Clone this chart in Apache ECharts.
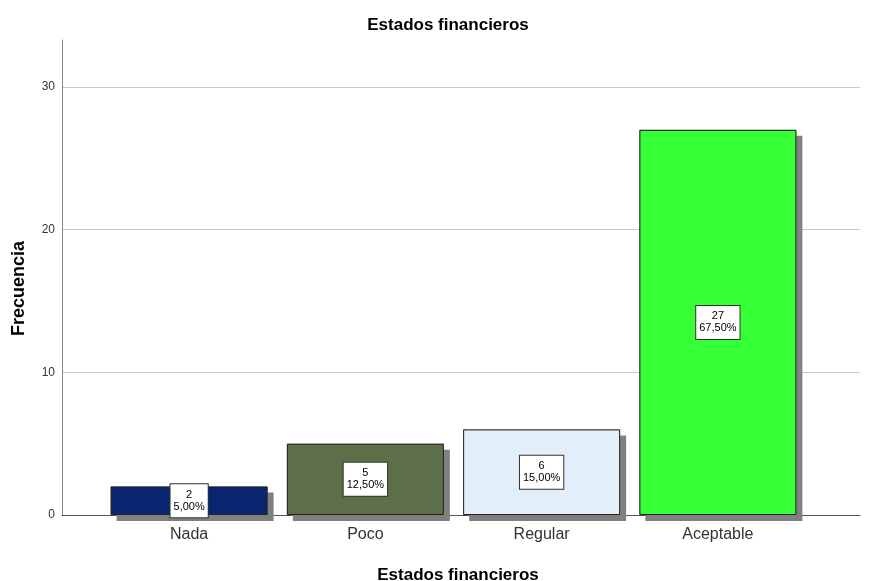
<!DOCTYPE html>
<html>
<head>
<meta charset="utf-8">
<script src="https://cdn.jsdelivr.net/npm/echarts@6/dist/echarts.min.js"></script>
<style>
html,body{margin:0;padding:0;background:#fff;}
#chart{width:875px;height:581px;}
</style>
</head>
<body>
<div id="chart"></div>
<script>
var categories = ['Nada', 'Poco', 'Regular', 'Aceptable'];
var counts = [2, 5, 6, 27];
var percents = ['5,00%', '12,50%', '15,00%', '67,50%'];
var barColors = ['#0b2671', '#5d6f48', '#e2eefa', '#35ff35'];
var yTicks = [0, 10, 20, 30];

var FONT = 'Arial, "Liberation Sans", sans-serif';
var chart = echarts.init(document.getElementById('chart'), null, {renderer: 'canvas'});

var frontData = counts.map(function (v, i) {
  return { value: v, itemStyle: { color: barColors[i] } };
});

chart.setOption({
  animation: false,
  backgroundColor: '#ffffff',
  title: [
    { text: 'Estados financieros', left: 443, top: 12, textAlign: 'center',
      textStyle: { fontFamily: FONT, fontSize: 17, fontWeight: 'bold', color: '#000' } },
    { text: 'Estados financieros', left: 453, top: 562, textAlign: 'center',
      textStyle: { fontFamily: FONT, fontSize: 17, fontWeight: 'bold', color: '#000' } }
  ],
  grid: [
    { left: 62, right: 15, top: 40, bottom: 66 },
    { left: 101, right: 69, top: 40, bottom: 66 }
  ],
  xAxis: [
    { gridIndex: 0, type: 'value', min: 0, max: 1,
      axisLine: { show: true, lineStyle: { color: '#555', width: 1 } },
      axisTick: { show: false }, axisLabel: { show: false }, splitLine: { show: false } },
    { gridIndex: 1, type: 'category', data: categories,
      axisLine: { show: false }, axisTick: { show: false }, splitLine: { show: false },
      axisLabel: { fontFamily: FONT, fontSize: 16, color: '#333', margin: 12 } }
  ],
  yAxis: [
    { gridIndex: 0, type: 'value', min: yTicks[0], max: 33.3, interval: 10,
      axisLine: { show: true, lineStyle: { color: '#888', width: 1 } },
      axisTick: { show: false },
      axisLabel: { fontFamily: FONT, fontSize: 12, color: '#333', margin: 7, showMaxLabel: false,
        formatter: function (v) { return yTicks.indexOf(v) >= 0 ? String(v) : ''; } },
      splitLine: { show: true, showMaxLine: false, lineStyle: { color: '#c8c8c8', width: 1 } },
      name: 'Frecuencia', nameLocation: 'middle', nameGap: 34, nameRotate: 90,
      nameTextStyle: { fontFamily: FONT, fontSize: 18, fontWeight: 'bold', color: '#000', padding: [0, 22, 0, 0] } },
    { gridIndex: 1, type: 'value', min: yTicks[0], max: 33.3, interval: 10, show: false }
  ],
  series: [
    {
      type: 'bar',
      name: 'shadow',
      xAxisIndex: 1,
      yAxisIndex: 1,
      barWidth: 157,
      barGap: '-100%',
      silent: true,
      data: counts,
      itemStyle: {
        color: '#808080',
        shadowColor: '#808080', shadowBlur: 0, shadowOffsetX: 6, shadowOffsetY: 6
      }
    },
    {
      type: 'bar',
      name: 'Frecuencia',
      xAxisIndex: 1,
      yAxisIndex: 1,
      barWidth: 157,
      barGap: '-100%',
      data: frontData,
      itemStyle: { borderColor: '#222', borderWidth: 1 },
      label: {
        show: true,
        position: 'inside',
        formatter: function (p) { return p.value + '\n' + percents[p.dataIndex]; },
        fontFamily: FONT,
        fontSize: 11,
        lineHeight: 12,
        color: '#000',
        backgroundColor: '#fff',
        borderColor: '#333',
        borderWidth: 1,
        padding: [5, 3, 4, 3],
        align: 'center'
      }
    }
  ]
});
</script>
</body>
</html>
